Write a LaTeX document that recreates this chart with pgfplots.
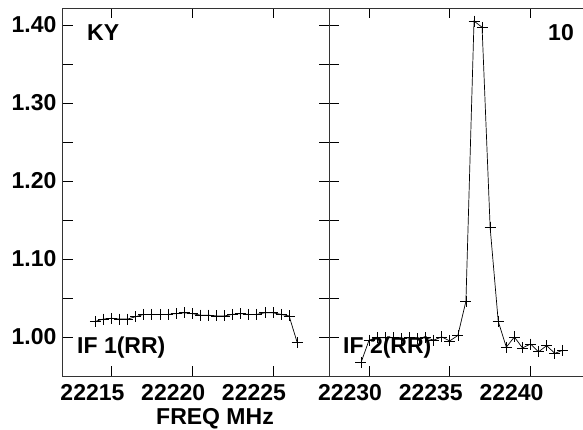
\documentclass[border=0pt]{standalone}
\usepackage{fontspec}
\setmainfont{Liberation Sans}
\usepackage{pgfplots}
\usepackage{pgfplotstable}
\pgfplotsset{compat=1.18}

\pgfplotstableread{
f v
22214.0 1.020
22214.5 1.023
22215.0 1.024
22215.5 1.023
22216.0 1.023
22216.5 1.026
22217.0 1.029
22217.5 1.029
22218.0 1.029
22218.5 1.029
22219.0 1.030
22219.5 1.031
22220.0 1.030
22220.5 1.028
22221.0 1.028
22221.5 1.027
22222.0 1.027
22222.5 1.029
22223.0 1.030
22223.5 1.029
22224.0 1.029
22224.5 1.031
22225.0 1.031
22225.5 1.029
22226.0 1.027
22226.5 0.993
}\leftdata

\pgfplotstableread{
f v
22229.5 0.967
22230.0 0.996
22230.5 0.999
22231.0 0.999
22231.5 0.999
22232.0 0.998
22232.5 0.999
22233.0 0.998
22233.5 0.999
22234.0 0.996
22234.5 1.000
22235.0 0.995
22235.5 1.002
22236.0 1.046
22236.5 1.405
22237.0 1.397
22237.5 1.140
22238.0 1.020
22238.5 0.987
22239.0 1.000
22239.5 0.986
22240.0 0.991
22240.5 0.981
22241.0 0.989
22241.5 0.979
22242.0 0.983
}\rightdata

\begin{document}
\begin{tikzpicture}[font=\fontsize{23}{27}\selectfont\bfseries]
\pgfplotsset{
  panel/.style={
    scale only axis, height=368pt,
    ymin=0.95, ymax=1.4217,
    ytick={1.0,1.1,1.2,1.3,1.4},
    minor ytick={1.05,1.15,1.25,1.35},
    tick align=inside,
    major tick length=10pt, minor tick length=10pt,
    axis line style={black!80, line width=1pt},
    tick style={black, line width=0.8pt},
    scaled x ticks=false, scaled y ticks=false,
    /pgf/number format/assume math mode=true,
    tick label style={font=\fontsize{23}{27}\selectfont\bfseries},
    xticklabel style={/pgf/number format/.cd, fixed, precision=0, set thousands separator={}, /tikz/.cd, yshift=-5pt, xshift=-19pt},
    yticklabel style={/pgf/number format/.cd, fixed, fixed zerofill, precision=2, /tikz/.cd, xshift=-3pt},
  },
  dataline/.style={black, line width=0.7pt, mark=+, mark size=5.5pt, mark options={line width=0.7pt}},
}
\begin{axis}[panel, at={(63pt,53pt)}, anchor=south west, width=266pt,
  xmin=22212, xmax=22228.47, xtick={22215,22220,22225}]
  \addplot[dataline] table[x=f, y=v] {\leftdata};
\end{axis}
\begin{axis}[panel, at={(329pt,53pt)}, anchor=south west, width=254pt,
  xmin=22227.52, xmax=22243.25, xtick={22230,22235,22240}, yticklabels={},
  axis x line*=box, axis y line*=left]
  \addplot[dataline] table[x=f, y=v] {\rightdata};
\end{axis}
\node[anchor=base west, inner sep=0] at (87pt,388.5pt) {KY};
\node[anchor=base east, inner sep=0] at (574pt,388pt) {10};
\node[anchor=base west, inner sep=0] at (77pt,76pt) {IF 1(RR)};
\node[anchor=base west, inner sep=0] at (343pt,76pt) {IF 2(RR)};
\node[anchor=base, inner sep=0] at (215pt,4.5pt) {FREQ MHz};
\pgfresetboundingbox
\useasboundingbox (0,0) rectangle (583pt,429pt);
\end{tikzpicture}
\end{document}
